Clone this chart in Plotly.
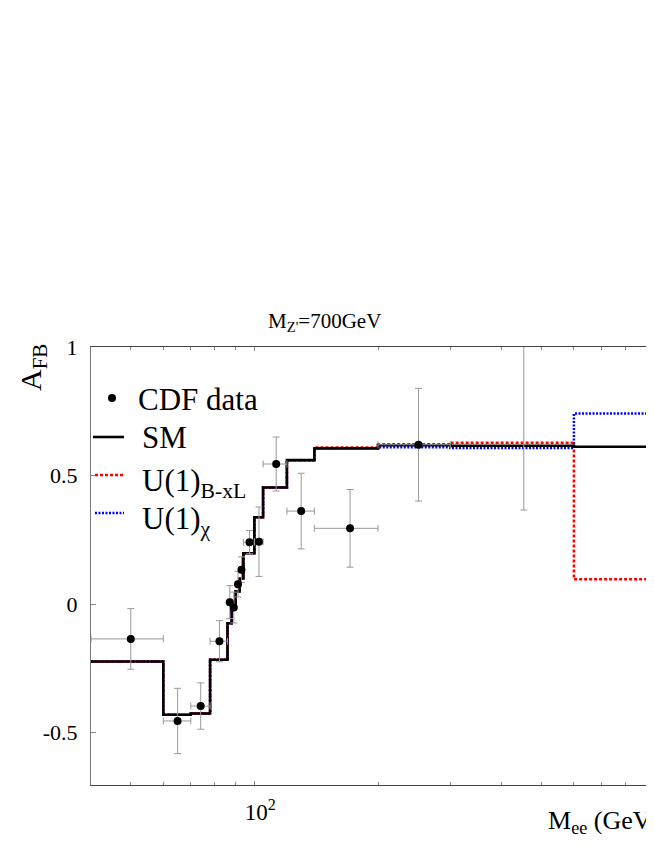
import numpy as np
import plotly.graph_objects as go

# bin edges of the A_FB histograms (GeV), last edge is past the right side of the frame
bin_edges = [40, 60, 70, 78, 86, 88, 90, 92, 94, 100, 105, 120, 140, 200, 300, 600, 1000]
sm_afb  = [-0.223, -0.430, -0.425, -0.216, -0.074, -0.008, 0.050, 0.100, 0.198,
           0.338, 0.454, 0.560, 0.606, 0.618, 0.616, 0.612]
bxl_afb = [-0.223, -0.430, -0.425, -0.216, -0.074, -0.008, 0.050, 0.100, 0.198,
           0.338, 0.454, 0.560, 0.609, 0.622, 0.628, 0.097]
chi_afb = [-0.223, -0.430, -0.425, -0.216, -0.074, -0.008, 0.050, 0.100, 0.198,
           0.338, 0.454, 0.560, 0.606, 0.610, 0.607, 0.741]

# CDF points
cdf_mass    = [50, 65, 74, 82.2, 87.1, 89.1, 91.2, 93.0, 97.3, 102.6, 113, 130, 171, 251, 453]
cdf_mass_lo = [40, 60, 70, 78, 86, 88, 90, 92, 94, 100, 105, 120, 140, 200, 300]
cdf_mass_hi = [60, 70, 78, 86, 88, 90, 92, 94, 100, 105, 120, 140, 200, 300, 600]
cdf_afb     = [-0.135, -0.454, -0.396, -0.144, 0.008, -0.013, 0.078, 0.134, 0.241,
               0.243, 0.545, 0.362, 0.295, 0.620, 1.10]
cdf_err     = [0.118, 0.127, 0.090, 0.080, 0.064, 0.060, 0.050, 0.050, 0.045,
               0.135, 0.105, 0.147, 0.151, 0.219, 0.734]

FONT = "Liberation Serif"
RED_DASH = '3px,2px'
BLUE_DASH = '2px,1.5px'


def step(vals):
    return vals + [vals[-1]]


traces = []
traces.append(go.Scatter(
    x=bin_edges, y=step(chi_afb), mode='lines', line_shape='hv',
    name='U(1)<sub>χ</sub>',
    line=dict(color='#0000ff', width=2.5, dash=BLUE_DASH)
))
traces.append(go.Scatter(
    x=bin_edges, y=step(bxl_afb), mode='lines', line_shape='hv',
    name='U(1)<sub>B-xL</sub>',
    line=dict(color='#ff0000', width=2.5, dash=RED_DASH)
))
traces.append(go.Scatter(
    x=bin_edges, y=step(sm_afb), mode='lines', line_shape='hv',
    name='SM',
    line=dict(color='black', width=2.6)
))
traces.append(go.Scatter(
    x=cdf_mass, y=cdf_afb, mode='markers', name='CDF data',
    marker=dict(size=8, color='black'),
    error_x=dict(type='data', symmetric=False,
                 array=list(np.array(cdf_mass_hi) - np.array(cdf_mass)),
                 arrayminus=list(np.array(cdf_mass) - np.array(cdf_mass_lo)),
                 color='#999999', thickness=1, width=3.5),
    error_y=dict(type='data', array=cdf_err, color='#999999', thickness=1, width=3.5)
))

# hand-made legend (frame on the page: x 91..646 px, y 347..785 px)
def px_x(p):
    return (p - 91) / 555.0

def px_y(p):
    return (785 - p) / 438.0

leg_font = dict(family=FONT, size=31, color='black')
shapes = [
    dict(type='circle', xref='paper', yref='paper', xsizemode='pixel', ysizemode='pixel',
         xanchor=px_x(112), yanchor=px_y(398), x0=-4, x1=4, y0=-4, y1=4,
         fillcolor='black', line=dict(color='black', width=0)),
    dict(type='line', xref='paper', yref='paper', x0=px_x(93), x1=px_x(124),
         y0=px_y(437), y1=px_y(437), line=dict(color='black', width=2.6)),
    dict(type='line', xref='paper', yref='paper', x0=px_x(95), x1=px_x(124),
         y0=px_y(475), y1=px_y(475), line=dict(color='#ff0000', width=2.5, dash=RED_DASH)),
    dict(type='line', xref='paper', yref='paper', x0=px_x(95), x1=px_x(124),
         y0=px_y(513), y1=px_y(513), line=dict(color='#0000ff', width=2.5, dash=BLUE_DASH)),
]
legend_notes = [
    dict(text='CDF data', x=px_x(136), y=px_y(399)),
    dict(text='SM', x=px_x(140), y=px_y(437)),
    dict(text='U(1)<sub>B-xL</sub>', x=px_x(140), y=px_y(483)),
    dict(text='U(1)<sub>χ</sub>', x=px_x(140), y=px_y(521)),
]
for n in legend_notes:
    n.update(xref='paper', yref='paper', xanchor='left', yanchor='middle',
             showarrow=False, font=leg_font)

# same px-per-decade as the original frame, which is cut at the window edge
x_end = np.log10(40) + 555 / 410.6

layout = go.Layout(
    # page body keeps an 8px margin, figure sized so nothing scrolls
    width=638, height=830,
    paper_bgcolor='white', plot_bgcolor='white',
    margin=dict(l=83, r=0, t=339, b=53),
    font=dict(family=FONT, color='black'),
    showlegend=False,
    xaxis=dict(
        type='log', range=[np.log10(40), x_end],
        showgrid=False, zeroline=False,
        showline=True, linecolor='#444', linewidth=1, mirror='ticks',
        ticks='inside', ticklen=4, tickcolor='#888',
        tickvals=[100], ticktext=['10<sup>2</sup>'],
        tickfont=dict(family=FONT, size=23),
        ticklabelstandoff=6, ticklabelshift=6,
        minor=dict(tickvals=[50, 60, 70, 80, 90, 200, 300, 400, 500, 600, 700, 800, 900],
                   ticks='inside', ticklen=3, tickcolor='#888'),
    ),
    yaxis=dict(
        range=[-0.703, 1.0],
        showgrid=False, zeroline=False,
        showline=True, linecolor='#777', linewidth=1,
        ticks='inside', ticklen=5, tickcolor='#888',
        tickvals=[-0.5, 0, 0.5, 1], ticktext=['-0.5', '0', '0.5', '1'],
        tickfont=dict(family=FONT, size=22),
        ticklabelstandoff=8,
    ),
    shapes=shapes,
    annotations=[
        dict(text="M<sub>Z'</sub>=700GeV", xref='paper', yref='paper',
             x=px_x(324), y=px_y(322), xanchor='center', yanchor='middle', showarrow=False,
             font=dict(family=FONT, size=21)),
        dict(text="A<sub>FB</sub>", xref='paper', yref='paper', textangle=-90,
             x=px_x(33), y=px_y(368), xanchor='center', yanchor='middle', showarrow=False,
             font=dict(family=FONT, size=30)),
        dict(text="M<sub>ee</sub> (GeV)", xref='paper', yref='paper',
             x=px_x(546), y=px_y(822), xanchor='left', yanchor='middle', showarrow=False,
             font=dict(family=FONT, size=26)),
    ] + legend_notes,
)

fig = go.Figure(data=traces, layout=layout)
fig.write_html("out.html")
